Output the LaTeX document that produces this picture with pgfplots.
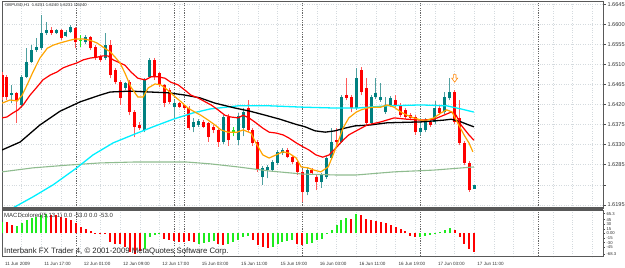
\documentclass[border=0pt]{standalone}
\usepackage{pgfplots}
\usepackage{pgfplotstable}
\pgfplotsset{compat=1.18}
\usepackage{fontspec}
\setmainfont{Liberation Sans}
\definecolor{bull}{RGB}{0,128,128}
\definecolor{bullwick}{RGB}{80,160,160}
\definecolor{bear}{RGB}{255,0,0}
\definecolor{bearwick}{RGB}{255,90,90}
\definecolor{maorange}{RGB}{255,165,0}
\definecolor{macyan}{RGB}{0,240,255}
\definecolor{magreen}{RGB}{143,188,143}
\definecolor{macdgreen}{RGB}{30,235,30}
\definecolor{gridc}{RGB}{212,218,222}

\pgfdeclareplotmark{sellarrow}{%
 \pgfpathmoveto{\pgfpoint{-1.3pt}{4pt}}%
 \pgfpathlineto{\pgfpoint{1.3pt}{4pt}}%
 \pgfpathlineto{\pgfpoint{1.3pt}{0.5pt}}%
 \pgfpathlineto{\pgfpoint{3pt}{0.5pt}}%
 \pgfpathlineto{\pgfpoint{0pt}{-3.5pt}}%
 \pgfpathlineto{\pgfpoint{-3pt}{0.5pt}}%
 \pgfpathlineto{\pgfpoint{-1.3pt}{0.5pt}}%
 \pgfpathclose
 \pgfusepathqfillstroke}

% bullish candles
\pgfplotstableread{
x o h l c
2 1.6441 1.6464 1.6423 1.6446
4 1.6419 1.6486 1.6412 1.6482
5 1.6482 1.6546 1.6479 1.6515
6 1.6515 1.6553 1.6513 1.6542
7 1.6542 1.6569 1.6538 1.6549
8 1.6546 1.6620 1.6542 1.6580
9 1.6580 1.6605 1.6576 1.6587
11 1.6580 1.6589 1.6578 1.6587
13 1.6573 1.6587 1.6571 1.6582
14 1.6582 1.6598 1.6580 1.6594
17 1.6560 1.6576 1.6555 1.6571
21 1.6524 1.6580 1.6520 1.6553
25 1.6457 1.6470 1.6452 1.6468
29 1.6363 1.6479 1.6358 1.6475
30 1.6482 1.6524 1.6479 1.6520
35 1.6414 1.6430 1.6390 1.6423
39 1.6370 1.6390 1.6358 1.6381
40 1.6374 1.6387 1.6370 1.6383
45 1.6336 1.6396 1.6331 1.6392
48 1.6340 1.6401 1.6329 1.6394
49 1.6367 1.6412 1.6349 1.6403
53 1.6258 1.6282 1.6240 1.6278
54 1.6273 1.6284 1.6255 1.6280
55 1.6273 1.6296 1.6269 1.6291
56 1.6289 1.6318 1.6284 1.6314
57 1.6311 1.6323 1.6307 1.6318
62 1.6224 1.6278 1.6217 1.6273
65 1.6246 1.6267 1.6233 1.6262
66 1.6258 1.6305 1.6253 1.6300
67 1.6300 1.6367 1.6296 1.6336
69 1.6336 1.6441 1.6334 1.6437
72 1.6412 1.6502 1.6408 1.6479
75 1.6379 1.6441 1.6374 1.6437
76 1.6437 1.6479 1.6432 1.6446
77 1.6430 1.6468 1.6426 1.6437
78 1.6403 1.6437 1.6399 1.6419
79 1.6419 1.6439 1.6414 1.6435
85 1.6358 1.6390 1.6352 1.6367
86 1.6363 1.6390 1.6358 1.6385
88 1.6381 1.6428 1.6376 1.6412
90 1.6403 1.6448 1.6399 1.6437
91 1.6435 1.6479 1.6430 1.6448
96 1.6231 1.6240 1.6231 1.6240
}\bulltab

% bearish candles
\pgfplotstableread{
x o h l c
0 1.6486 1.6493 1.6430 1.6437
1 1.6482 1.6486 1.6430 1.6437
3 1.6446 1.6448 1.6379 1.6430
10 1.6587 1.6594 1.6576 1.6580
12 1.6587 1.6589 1.6564 1.6569
15 1.6591 1.6594 1.6546 1.6560
18 1.6571 1.6573 1.6542 1.6546
19 1.6549 1.6553 1.6520 1.6526
20 1.6529 1.6531 1.6515 1.6520
22 1.6553 1.6564 1.6479 1.6486
23 1.6497 1.6502 1.6466 1.6470
24 1.6470 1.6475 1.6419 1.6435
26 1.6470 1.6475 1.6396 1.6403
27 1.6403 1.6408 1.6347 1.6370
28 1.6374 1.6381 1.6363 1.6367
31 1.6520 1.6524 1.6475 1.6482
32 1.6490 1.6493 1.6459 1.6464
33 1.6464 1.6466 1.6414 1.6423
34 1.6452 1.6457 1.6421 1.6426
36 1.6423 1.6426 1.6412 1.6414
37 1.6419 1.6421 1.6408 1.6412
38 1.6412 1.6417 1.6363 1.6367
41 1.6381 1.6385 1.6367 1.6370
42 1.6379 1.6381 1.6336 1.6347
43 1.6370 1.6374 1.6356 1.6363
44 1.6363 1.6367 1.6325 1.6336
46 1.6392 1.6399 1.6327 1.6340
50 1.6412 1.6430 1.6358 1.6363
51 1.6363 1.6367 1.6327 1.6334
52 1.6336 1.6340 1.6269 1.6273
58 1.6318 1.6323 1.6300 1.6302
59 1.6302 1.6307 1.6287 1.6291
60 1.6291 1.6296 1.6262 1.6269
61 1.6269 1.6273 1.6201 1.6224
63 1.6273 1.6278 1.6262 1.6267
64 1.6258 1.6262 1.6228 1.6246
68 1.6340 1.6367 1.6329 1.6336
70 1.6441 1.6479 1.6430 1.6435
71 1.6437 1.6441 1.6403 1.6412
73 1.6497 1.6504 1.6441 1.6448
74 1.6457 1.6479 1.6374 1.6379
80 1.6430 1.6441 1.6414 1.6419
81 1.6419 1.6423 1.6392 1.6396
82 1.6408 1.6412 1.6387 1.6392
83 1.6396 1.6401 1.6385 1.6390
84 1.6392 1.6396 1.6352 1.6358
87 1.6381 1.6385 1.6370 1.6374
89 1.6412 1.6417 1.6396 1.6401
92 1.6448 1.6452 1.6376 1.6381
93 1.6390 1.6430 1.6329 1.6334
94 1.6334 1.6338 1.6284 1.6289
95 1.6289 1.6293 1.6224 1.6228
}\beartab

% doji candles (lime)
\pgfplotstableread{
x o h l c
16 1.6563 1.6576 1.6549 1.6565
47 1.6359 1.6370 1.6349 1.6362
}\dojitab

% MACD histogram, rising bars
\pgfplotstableread{
x y
0 39
3 26
4 33
5 44
6 50
7 55
8 62
9 65.3
29 -50
30 -11
31 -5
32 -3
40 -33
41 -30
42 -28
43 -25
46 -33
47 -28
48 -22
49 -11
50 -8
55 -44
56 -33
57 -28
58 -25
59 -22
62 -33
63 -30
64 -22
65 -17
66 3
67 11
68 28
69 45
70 50
72 65.3
85 -10
86 -8
87 -4
88 2
89 6
90 11
91 17
}\macdup

% MACD histogram, falling bars
\pgfplotstableread{
x y
1 37
2 28
10 62
11 60
12 55
13 50
14 45
15 33
16 22
17 14
18 8
19 3
20 1
21 0.5
22 -28
23 -33
24 -33
25 -44
26 -61
27 -68.3
28 -56
33 -17
34 -22
35 -25
36 -28
37 -28
38 -25
39 -28
44 -33
45 -39
51 -22
52 -39
53 -44
54 -47
60 -33
61 -39
71 48
73 62
74 47
75 45
76 42
77 38
78 33
79 28
80 22
81 16
82 8
83 -8
84 -11
92 11
93 -11
94 -33
95 -50
96 -62
}\macddn

\begin{document}
\begin{tikzpicture}
\useasboundingbox (0,0) rectangle (625pt,268pt);
\fill[white] (0,0) rectangle (625pt,268pt);
\pgfplotsset{
  mtgrid/.style={
    xmin=0, xmax=122.15,
    xtick={0,8,...,120},
    minor xtick={4,12,...,116},
    xmajorgrids=true, xminorgrids=true,
    major grid style={dotted, gridc, line width=0.5pt},
    minor grid style={dotted, gridc, line width=0.5pt},
    extra x ticks={15,35,37,61,85,109},
    extra x tick labels={},
    extra x tick style={grid=major, tick style={draw=none},
      major grid style={black!60, dash pattern=on 1.2pt off 1.2pt, line width=0.5pt}},
    axis line style={black!65, line width=0.6pt},
    tick align=outside,
    major tick length=2.5pt,
    minor tick length=0pt,
    tick style={black!70, line width=0.5pt},
    yticklabel pos=right,
    ytick pos=right,
    xtick pos=bottom,
    clip=true,
  },
  candle/.style 2 args={forget plot, only marks, mark=*, mark size=0pt,
    mark options={draw=none, fill=none},
    error bars/y dir=plus, error bars/y explicit, error bars/error mark=none,
    error bars/error bar style={line width=#1, #2}},
}
% ---------------- main price panel
\begin{axis}[mtgrid,
  at={(2pt,60pt)}, anchor=south west,
  width=601pt, height=207pt, scale only axis,
  ymin=1.6188, ymax=1.6652,
  xticklabels={},
  xtick style={draw=none},
  ymajorgrids=true,
  ytick={1.6195,1.6240,1.6285,1.6330,1.6375,1.6420,1.6465,1.6510,1.6555,1.6600,1.6645},
  yticklabels={1.6195,{},1.6285,1.6330,1.6375,1.6420,1.6465,1.6510,1.6555,1.6600,1.6645},
  yticklabel style={font=\fontsize{5.6}{6}\selectfont, text=black!80, xshift=-1.5pt},
]
% wicks
\addplot[candle={0.9pt}{bullwick}]
  table[x=x, y=l, y error plus expr=\thisrow{h}-\thisrow{l}] {\bulltab};
\addplot[candle={0.9pt}{bearwick}]
  table[x=x, y=l, y error plus expr=\thisrow{h}-\thisrow{l}] {\beartab};
\addplot[candle={0.9pt}{macdgreen}]
  table[x=x, y=l, y error plus expr=\thisrow{h}-\thisrow{l}] {\dojitab};
% bodies
\addplot[candle={3pt}{bull}]
  table[x=x, y=o, y error plus expr=\thisrow{c}-\thisrow{o}] {\bulltab};
\addplot[candle={3pt}{bear}]
  table[x=x, y=c, y error plus expr=\thisrow{o}-\thisrow{c}] {\beartab};
\addplot[candle={3pt}{macdgreen}]
  table[x=x, y=o, y error plus expr=\thisrow{c}-\thisrow{o}] {\dojitab};
% moving averages
\addplot[magreen, line width=1.1pt] coordinates {
(0,1.6269)(6.3,1.6278)(13.2,1.6284)(19.9,1.6289)(26.6,1.6291)(32.1,1.6291)
(37.6,1.6291)(42.3,1.6287)(48,1.6280)(54.3,1.6271)(61.2,1.6264)(67.9,1.6262)
(72,1.6262)(79.7,1.6269)(87.8,1.6273)(95.9,1.6280)};
\addplot[macyan, line width=1.3pt] coordinates {
(0,1.6165)(2.2,1.6188)(6.3,1.6213)(10.4,1.6240)(15.2,1.6278)(18.5,1.6307)(22.6,1.6334)
(26.6,1.6352)(30.7,1.6370)(34.8,1.6387)(38.8,1.6401)(42.3,1.6410)(48,1.6417)
(54.5,1.6417)(61.2,1.6414)(67.9,1.6412)(72,1.6412)(78.3,1.6417)(85.2,1.6419)
(90.4,1.6417)(93.3,1.6410)(95.9,1.6403)};
\addplot[black, line width=1.3pt] coordinates {
(0,1.6318)(3.7,1.6336)(7.7,1.6374)(11.8,1.6405)(15.9,1.6426)(19.9,1.6441)
(22,1.6448)(26,1.6450)(30.1,1.6448)(34.1,1.6446)(37.2,1.6441)(40.2,1.6435)
(43.3,1.6423)(47.4,1.6412)(50.4,1.6405)(53.5,1.6396)(56.5,1.6387)(59.6,1.6376)
(61.6,1.6370)(63.6,1.6361)(65.7,1.6358)(67.7,1.6361)(69.7,1.6367)(71.7,1.6372)
(74.8,1.6374)(78.3,1.6379)(85.2,1.6381)(89.8,1.6385)(91.3,1.6387)(93.3,1.6381)
(94.9,1.6374)(95.9,1.6370)};
\addplot[bear, line width=1.2pt] coordinates {
(0,1.6390)(1,1.6392)(2.2,1.6401)(3.3,1.6408)(4.3,1.6419)(5.7,1.6441)(7.1,1.6459)
(8.3,1.6475)(9.8,1.6486)(11.2,1.6493)(12.4,1.6502)(13.8,1.6508)(15.2,1.6513)
(16.5,1.6520)(17.9,1.6524)(19.3,1.6526)(20.5,1.6529)(21.5,1.6529)(22.6,1.6520)
(23.6,1.6515)(25,1.6508)(26.2,1.6493)(27.6,1.6479)(29.1,1.6475)(30.3,1.6482)
(31.7,1.6482)(33.1,1.6479)(34.3,1.6470)(35.8,1.6464)(37.2,1.6452)(38.4,1.6441)
(39.8,1.6435)(41.3,1.6426)(42.5,1.6419)(43.9,1.6408)(45.3,1.6396)(46.5,1.6392)
(48,1.6390)(49,1.6396)(50.2,1.6390)(51.6,1.6379)(53,1.6367)(54.3,1.6358)
(55.7,1.6356)(57.1,1.6352)(58.3,1.6345)(59.8,1.6334)(61.2,1.6325)(62.4,1.6318)
(63.8,1.6307)(65.2,1.6302)(66.5,1.6307)(67.9,1.6323)(69.3,1.6340)(70.5,1.6352)
(72,1.6361)(74.2,1.6374)(77,1.6381)(79.7,1.6390)(82.3,1.6387)(85.2,1.6385)
(87.8,1.6387)(89.8,1.6396)(91.3,1.6403)(92.3,1.6396)(93.3,1.6374)(94.9,1.6352)
(95.9,1.6340)};
\addplot[maorange, line width=1.2pt] coordinates {
(0,1.6423)(1.6,1.6430)(3.1,1.6428)(4.1,1.6441)(5.1,1.6464)(6.3,1.6493)(7.7,1.6524)
(9.2,1.6546)(10.4,1.6553)(11.8,1.6558)(13.8,1.6564)(15,1.6567)(16.5,1.6567)
(17.9,1.6564)(19.3,1.6558)(20.5,1.6549)(22,1.6538)(23,1.6526)(24,1.6513)
(25,1.6490)(26.2,1.6459)(27.6,1.6437)(28.7,1.6437)(29.7,1.6457)(31.1,1.6466)
(32.3,1.6464)(33.7,1.6452)(35.2,1.6437)(36.4,1.6426)(37.8,1.6412)(39.2,1.6403)
(40.4,1.6396)(41.9,1.6385)(43.3,1.6374)(44.5,1.6363)(45.9,1.6358)(47.8,1.6358)
(49,1.6363)(50.6,1.6356)(51.6,1.6334)(53,1.6307)(54.3,1.6300)(55.7,1.6307)
(57.1,1.6314)(58.3,1.6311)(59.8,1.6300)(60.8,1.6280)(62.2,1.6278)(63.4,1.6273)
(64.8,1.6269)(66.3,1.6280)(67.3,1.6307)(68.3,1.6336)(69.3,1.6367)(70.5,1.6390)
(72,1.6403)(73,1.6408)(74.2,1.6412)(75.6,1.6414)(77,1.6414)(78.3,1.6419)
(79.7,1.6414)(81.1,1.6403)(82.3,1.6396)(83.7,1.6390)(85.2,1.6385)(86.4,1.6385)
(87.8,1.6390)(89.2,1.6401)(90.4,1.6408)(91.5,1.6403)(92.5,1.6381)(93.9,1.6352)
(94.9,1.6334)(95.7,1.6314)};
% sell signal arrow
\addplot[only marks, mark=sellarrow, mark size=3pt,
  mark options={draw=maorange!80!red, fill=white, line width=0.6pt}]
  coordinates {(92,1.6478)};
\draw[black!65, line width=1.4pt] (rel axis cs:0,0) -- (rel axis cs:1,0);
\node[anchor=north west, inner sep=0pt, font=\fontsize{4.2}{5}\selectfont, text=black!80]
  at (rel axis cs:0,1) [xshift=3pt, yshift=-2.6pt] {GBPUSD,H1\ \ 1.6231 1.6240 1.6231 1.6240};
\node[anchor=west, draw=black!80, fill=white, inner sep=0.6pt,
  font=\fontsize{5.6}{6}\selectfont, line width=0.5pt]
  at (axis cs:122.15,1.6240) [xshift=2pt] {1.6240};
\end{axis}
% ---------------- MACD panel
\begin{axis}[mtgrid,
  at={(2pt,12pt)}, anchor=south west,
  width=601pt, height=46pt, scale only axis,
  ymin=-74, ymax=77,
  xticklabels={11 Jun 2009,11 Jun 17:00,12 Jun 01:00,12 Jun 09:00,12 Jun 17:00,
    15 Jun 03:00,15 Jun 11:00,15 Jun 19:00,16 Jun 03:00,16 Jun 11:00,
    16 Jun 19:00,17 Jun 03:00,17 Jun 11:00,{},{},{}},
  xticklabel style={anchor=west, yshift=-6pt, xshift=-0.5pt,
    font=\fontsize{4.6}{5}\selectfont, text=black!80},
  ytick={-68.3,-45,-30,-15,0,15,30,45,65.3},
  yticklabels={-68.3,-45,-30,-15,0.00,15,30,45,65.3},
  yticklabel style={font=\fontsize{4.2}{4.5}\selectfont, text=black!80, xshift=-1.5pt},
  major tick length=1.5pt,
]
\addplot[ycomb, macdgreen, line width=2pt] table[x=x, y=y] {\macdup};
\addplot[ycomb, bear, line width=2pt] table[x=x, y=y] {\macddn};
\draw[black!65, line width=1.4pt] (rel axis cs:0,1) -- (rel axis cs:1,1);
\node[anchor=north west, inner sep=0pt, font=\fontsize{6}{6.5}\selectfont, text=black!80]
  at (rel axis cs:0,1) [xshift=2pt, yshift=-3pt] {MACDcolored(5,13,1) 0.0 -53.0 0.0 -53.0};
\node[anchor=south west, inner sep=0pt, font=\fontsize{7.8}{8}\selectfont, text=black!85]
  at (rel axis cs:0,0) [xshift=2pt, yshift=1pt] {Interbank FX Trader 4, © 2001-2009 MetaQuotes Software Corp.};
\end{axis}
\end{tikzpicture}
\end{document}
